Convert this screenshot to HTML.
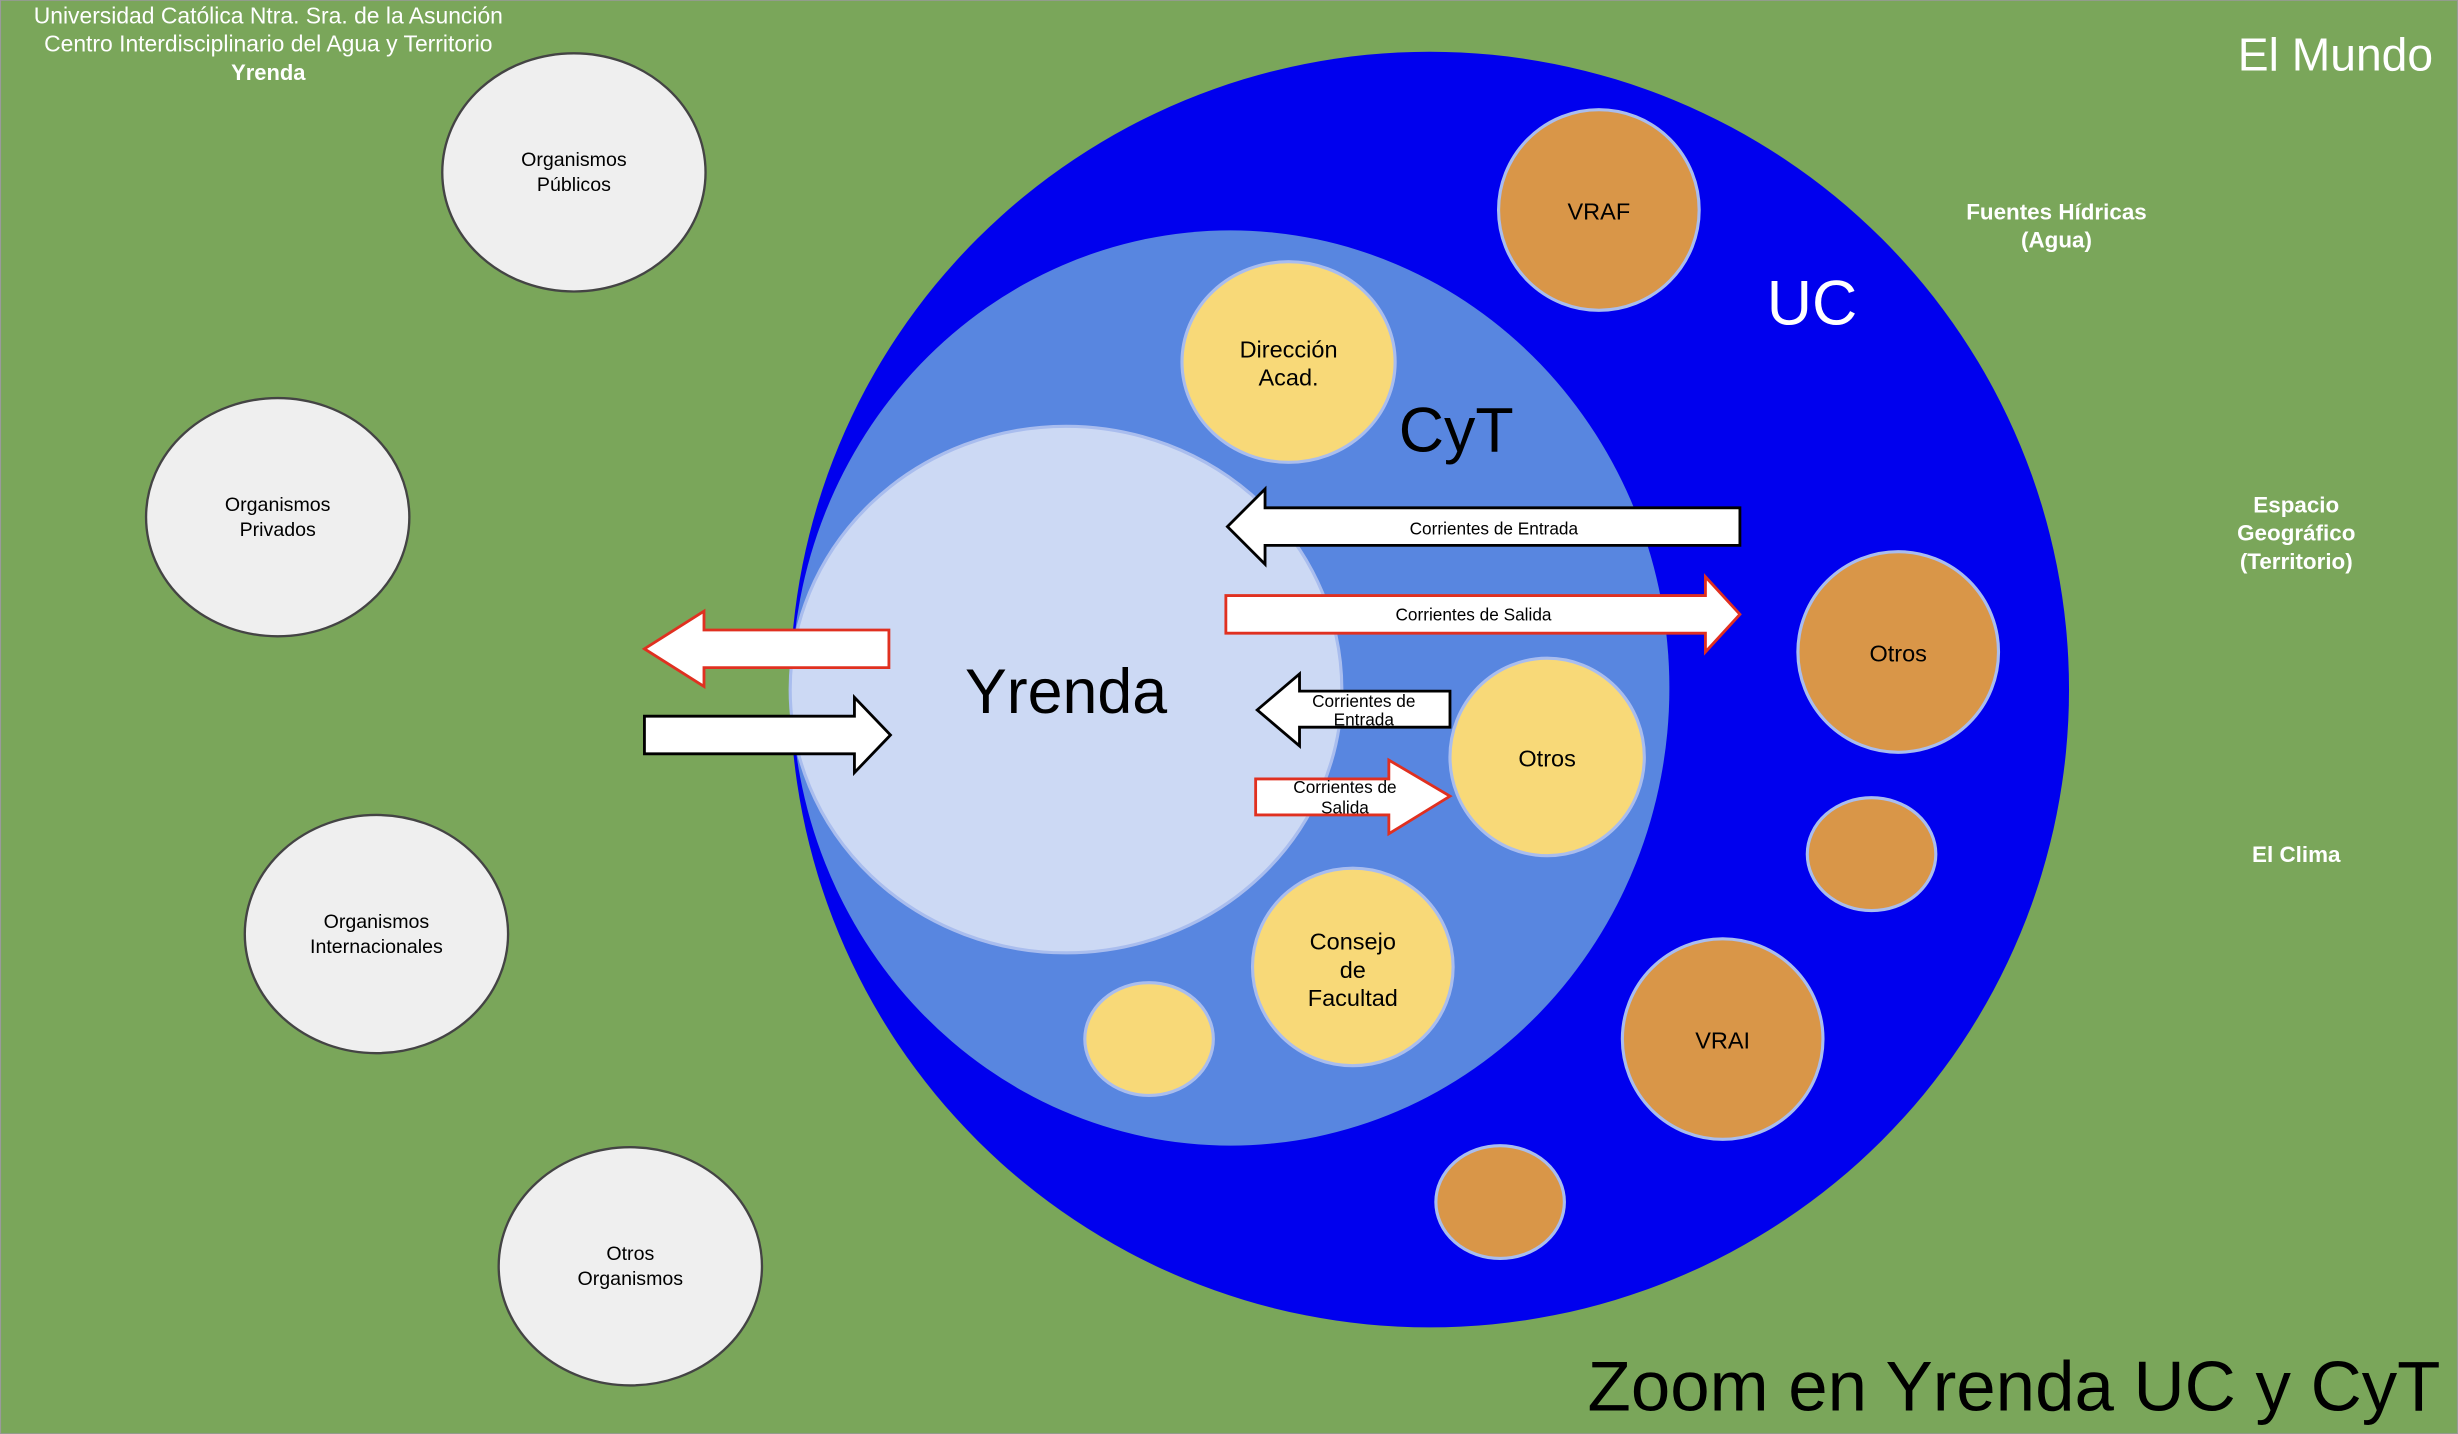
<!DOCTYPE html>
<html><head><meta charset="utf-8"><style>html,body{margin:0;padding:0;background:#7aa65a}svg{display:block}text{font-family:"Liberation Sans",sans-serif}</style></head>
<body>
<svg width="2458" height="1434" viewBox="0 0 1568 915" xmlns="http://www.w3.org/2000/svg">
<rect x="0" y="0" width="1568" height="915" fill="#7aa65a" stroke="#9a9a9a" stroke-width="1"/>
<g text-anchor="middle" fill="#fff" font-size="14.6">
<text x="171" y="15">Universidad Católica Ntra. Sra. de la Asunción</text>
<text x="171" y="33">Centro Interdisciplinario del Agua y Territorio</text>
<text x="171" y="51" font-weight="bold" font-size="14">Yrenda</text>
<text x="1490" y="45" font-size="29.5">El Mundo</text>
<g font-weight="bold" font-size="14.3">
<text x="1312" y="140">Fuentes Hídricas</text><text x="1312" y="158">(Agua)</text>
<text x="1465" y="327">Espacio</text><text x="1465" y="345">Geográfico</text><text x="1465" y="363">(Territorio)</text>
<text x="1465" y="550">El Clima</text>
</g>
</g>
<g fill="#efefef" stroke="#444" stroke-width="1.5">
<ellipse cx="366" cy="110" rx="84" ry="76"/>
<ellipse cx="177" cy="330" rx="84" ry="76"/>
<ellipse cx="240" cy="596" rx="84" ry="76"/>
<ellipse cx="402" cy="808" rx="84" ry="76"/>
</g>
<g text-anchor="middle" font-size="12.5" fill="#000">
<text x="366" y="106">Organismos</text><text x="366" y="122">Públicos</text>
<text x="177" y="326">Organismos</text><text x="177" y="342">Privados</text>
<text x="240" y="592">Organismos</text><text x="240" y="608">Internacionales</text>
<text x="402" y="804">Otros</text><text x="402" y="820">Organismos</text>
</g>
<ellipse cx="912" cy="440" rx="408" ry="407" fill="#0000ee"/>
<ellipse cx="785" cy="439" rx="280" ry="292" fill="#5886e0"/>
<ellipse cx="680" cy="440" rx="176" ry="168" fill="#ccd9f4" stroke="#a9bdee" stroke-width="2"/>
<g fill="#f8d978" stroke="#a9bdee" stroke-width="2">
<ellipse cx="822" cy="231" rx="68" ry="64"/>
<ellipse cx="987" cy="483" rx="62" ry="63"/>
<ellipse cx="863" cy="617" rx="64" ry="63"/>
<ellipse cx="733" cy="663" rx="41" ry="36"/>
</g>
<g fill="#d99648" stroke="#a9bdee" stroke-width="2">
<ellipse cx="1020" cy="134" rx="64" ry="64"/>
<ellipse cx="1211" cy="416" rx="64" ry="64"/>
<ellipse cx="1194" cy="545" rx="41" ry="36"/>
<ellipse cx="1099" cy="663" rx="64" ry="64"/>
<ellipse cx="957" cy="767" rx="41" ry="36"/>
</g>
<g text-anchor="middle" fill="#000">
<text x="1156" y="207" font-size="40" fill="#fff">UC</text>
<text x="929" y="288" font-size="40">CyT</text>
<text x="680" y="455" font-size="40">Yrenda</text>
<text x="822" y="228" font-size="15">Dirección</text><text x="822" y="246" font-size="15">Acad.</text>
<text x="987" y="489" font-size="15">Otros</text>
<text x="863" y="606" font-size="15">Consejo</text><text x="863" y="624" font-size="15">de</text><text x="863" y="642" font-size="15">Facultad</text>
<text x="1020" y="140" font-size="15">VRAF</text>
<text x="1211" y="422" font-size="15">Otros</text>
<text x="1099" y="669" font-size="15">VRAI</text>
</g>
<g fill="#fff" stroke-width="1.8">
<polygon points="1110,324 807,324 807,312 783,336 807,360 807,348 1110,348" stroke="#000"/>
<polygon points="782,380 1088,380 1088,368 1110,392 1088,416 1088,404 782,404" stroke="#e03020"/>
<polygon points="925,441 829,441 829,430 802,453 829,476 829,464 925,464" stroke="#000"/>
<polygon points="801,497 886,497 886,485 925,508 886,532 886,520 801,520" stroke="#e03020"/>
<polygon points="567,402 449,402 449,390 411,414 449,438 449,426 567,426" stroke="#e03020"/>
<polygon points="411,457 545,457 545,445 568,469 545,493 545,481 411,481" stroke="#000"/>
</g>
<g text-anchor="middle" font-size="11" fill="#000">
<text x="953" y="341">Corrientes de Entrada</text>
<text x="940" y="396">Corrientes de Salida</text>
<text x="870" y="451">Corrientes de</text><text x="870" y="463">Entrada</text>
<text x="858" y="506">Corrientes de</text><text x="858" y="519">Salida</text>
</g>
<text x="1557" y="900" text-anchor="end" font-size="45.2" fill="#000">Zoom en Yrenda UC y CyT</text>
</svg>
</body></html>
